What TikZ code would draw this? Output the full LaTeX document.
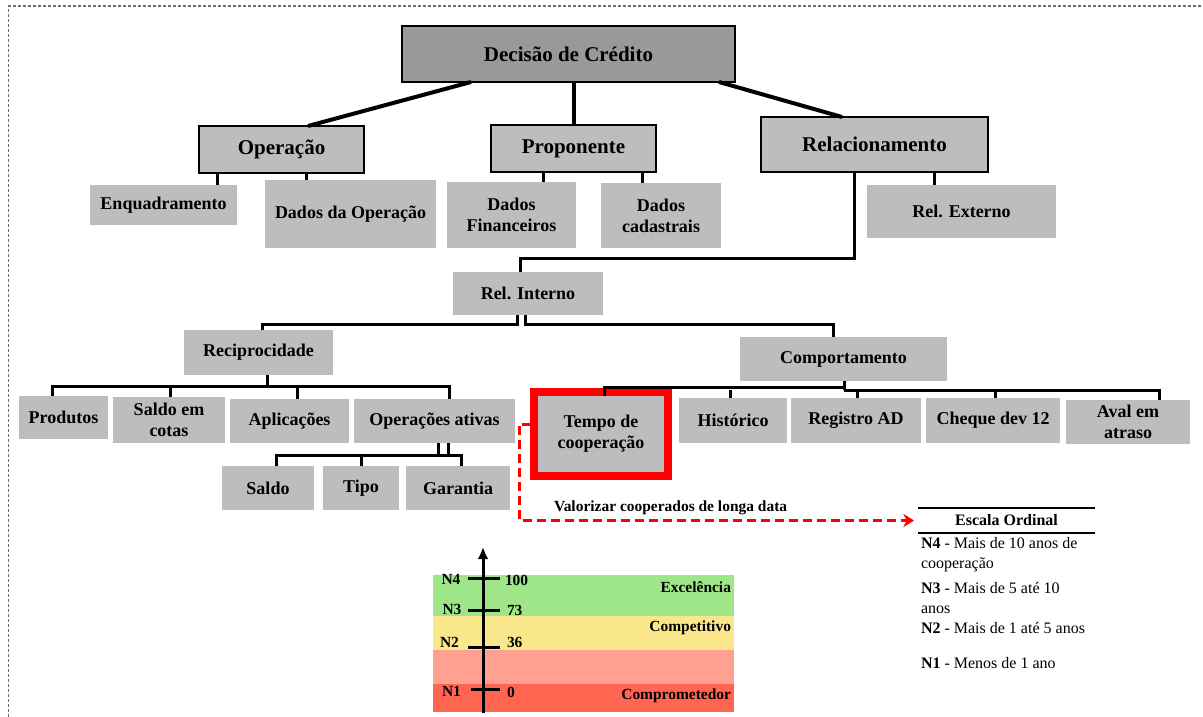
\documentclass[tikz,border=0pt]{standalone}
\usepackage{fontspec}
\setmainfont{Liberation Serif}
\usetikzlibrary{calc,arrows.meta}
\definecolor{boxgray}{RGB}{189,189,189}
\definecolor{topgray}{RGB}{153,153,153}
\definecolor{bandgreen}{RGB}{158,230,135}
\definecolor{bandyellow}{RGB}{250,231,140}
\definecolor{bandsalmon}{RGB}{255,160,145}
\definecolor{bandred}{RGB}{255,101,80}
\definecolor{framegray}{RGB}{110,110,110}
\begin{document}
\begin{tikzpicture}[x=0.75pt,y=-0.75pt,
  every node/.style={inner sep=0pt, outer sep=0pt},
  % a node spanning the rectangle left/top/right/bottom
  area/.style args={#1/#2/#3/#4}{at={({(#1+#3)/2},{(#2+#4)/2})},
    minimum width={(#3-#1)*0.75pt}, minimum height={(#4-#2)*0.75pt}},
  box/.style={fill=boxgray, align=center, font=\fontsize{13.5}{15.75}\selectfont\bfseries},
  framed/.style={box, draw=black, line width=0.9pt, font=\fontsize{15.75}{18}\selectfont\bfseries},
  toplink/.style={line width=3pt, black},
  link/.style={line width=2.25pt, black},
  legtext/.style={anchor=west, align=left, font=\fontsize{12}{15.4}\selectfont},
  scalelbl/.style={font=\fontsize{11.6}{13}\selectfont\bfseries},
  tick/.style={line width=2.25pt, black}]
\useasboundingbox (0,0) rectangle (1203,717);

% dotted frame
\draw[framegray, line width=1.1pt, dash pattern=on 2.25pt off 1.5pt] (8.5,717) -- (8.5,6) -- (1203,6);

% ---- tree nodes ----
\node[framed, fill=topgray, area=402/26/735/82] (dec) {Decisão de Crédito};
\node[framed, area=199/126/364/173] (op) {Operação};
\node[framed, area=491/125/656/172] (prop) {Proponente};
\node[framed, area=761/117/988/172] (rel) {Relacionamento};

\node[box, area=90/185/237/225] (enq) {Enquadramento};
\node[box, area=265/180/436/248] (dop) {Dados da Operação};
\node[box, area=447/182/576/248] (dfin) {Dados\\Financeiros};
\node[box, area=601/183/721/248] (dcad) {Dados\\cadastrais};
\node[box, area=867/185/1056/238] (rext) {Rel. Externo};

\node[box, area=453/272/603/315] (rint) {Rel. Interno};
\node[box, area=184/330/333/375] (rec) {Reciprocidade};
\node[box, area=740/337/947/381] (comp) {Comportamento};

\node[box, area=19/396/108/439] (prod) {Produtos};
\node[box, area=113/397/225/443] (sc) {Saldo em\\cotas};
\node[box, area=230/399/349/443] (apl) {Aplicações};
\node[box, area=354/399/515/443] (opat) {Operações ativas};

\node[box, area=222/466/314/510] (sal) {Saldo};
\node[box, area=323/466/399/510] (tipo) {Tipo};
\node[box, area=406/466/510/510] (gar) {Garantia};

\node[box, draw=red, line width=6pt, area=534/392/668/476] (tempo) {Tempo de\\cooperação};
\node[box, area=679/398/787/443] (hist) {Histórico};
\node[box, area=791/398/921/443] (reg) {Registro AD};
\node[box, area=926/398/1060/443] (cheq) {Cheque dev 12};
\node[box, area=1066/400/1190/444] (aval) {Aval em\\atraso};

% ---- connectors ----
\draw[toplink] (dec.south -| 471,0) -- (op.north -| 308,0);
\draw[toplink] (dec.south -| prop.north) -- (prop.north);
\draw[toplink] (dec.south -| 719,0) -- (rel.north -| 842,0);

\draw[link] (op.south -| 217,0) -- (enq.north -| 217,0);
\draw[link] (op.south -| 306,0) -- (dop.north -| 306,0);
\draw[link] (prop.south -| 543,0) -- (dfin.north -| 543,0);
\draw[link] (prop.south -| 642,0) -- (dcad.north -| 642,0);
\draw[link] (rel.south -| 934,0) -- (rext.north -| 934,0);
\draw[link] (rel.south -| 854,0) -- (854,258) -| (rint.north -| 520,0);

\draw[link] (rint.south -| 517,0) -- ++(0,9) -| (rec.north -| 262,0);
\draw[link] (rint.south -| 525,0) -- ++(0,9) -| (comp.north -| 833,0);

% Reciprocidade branch
\draw[link] (rec.south -| 267,0) -- (267,386);
\draw[link] (prod.north -| 52,0) -- (52,386) -- (449,386) -- (opat.north -| 449,0);
\draw[link] (sc.north -| 170,0) -- (170,386);
\draw[link] (apl.north -| 297,0) -- (297,386);

% Operações ativas branch
\draw[link] (opat.south -| 438,0) -- (438,455);
\draw[link] (opat.south -| 448,0) -- (448,455);
\draw[link] (sal.north -| 276,0) -- (276,455) -- (461,455) -- (gar.north -| 461,0);
\draw[link] (tipo.north -| 361,0) -- (361,455);

% Comportamento branch
\draw[link] (comp.south -| 844,0) -- (844,390);
\draw[link] ($(tempo.north -| 604,0)+(0,4)$) -- (604,387) -- (844,387);
\draw[link] (844,390) -- (1159,390) -- (aval.north -| 1159,0);
\draw[link] (hist.north -| 730,0) -- (730,390);
\draw[link] (reg.north -| 857,0) -- (857,390);
\draw[link] (cheq.north -| 995,0) -- (995,390);

% ---- ordinal scale legend ----
\node[area=918/508/1095/533, font=\fontsize{12}{14}\selectfont\bfseries] (esc) {Escala Ordinal};
\draw[line width=1.1pt] (esc.north west) -- (esc.north east);
\draw[line width=1.1pt] (esc.south west) -- (esc.south east);
\node[legtext] (l4) at (921,554.5) {\textbf{N4} - Mais de 10 anos de\\cooperação};
\node[legtext] (l3) at (921,598) {\textbf{N3} - Mais de 5 até 10\\anos};
\node[legtext] (l2) at (921,628) {\textbf{N2} - Mais de 1 até 5 anos};
\node[legtext] (l1) at (921,663) {\textbf{N1} - Menos de 1 ano};

% highlighted criterion pointing to its scale
\node[anchor=west, font=\fontsize{11.6}{13}\selectfont\bfseries] (val) at (554,508) {Valorizar cooperados de longa data};
\draw[red, line width=2.25pt, dash pattern=on 7pt off 3.5pt, -{Stealth[length=8pt,width=10pt]}]
  ($(tempo.west)+(-3,-10)$) -- ++(-12,0) |- ([xshift=-3pt]esc.west);

% ---- score bands ----
\fill[bandgreen] (433,575) rectangle (734,616);
\fill[bandyellow] (433,616) rectangle (734,650);
\fill[bandsalmon] (433,650) rectangle (734,684);
\fill[bandred] (433,684) rectangle (734,712);
\draw[line width=2.25pt, -{Latex[length=9pt,width=8pt]}] (483,713) -- (483,547);
\draw[tick] (468,578) -- (500,578);
\draw[tick] (468,610) -- (500,610);
\draw[tick] (468,647) -- (500,647);
\draw[tick] (471,689) -- (500,689);
\node[scalelbl] (n4) at (451,579) {N4};
\node[scalelbl] (n3) at (452,609) {N3};
\node[scalelbl] (n2) at (449.5,642) {N2};
\node[scalelbl] (n1) at (451.5,691) {N1};
\node[scalelbl, anchor=west] (v100) at (505,580) {100};
\node[scalelbl, anchor=west] (v73) at (507,610) {73};
\node[scalelbl, anchor=west] (v36) at (507,642) {36};
\node[scalelbl, anchor=west] (v0) at (507,692) {0};
\node[scalelbl, anchor=east] (exc) at (731,587) {Excelência};
\node[scalelbl, anchor=east] (cmp) at (731,628) {Competitivo};
\node[scalelbl, anchor=east] (cpr) at (731,696) {Comprometedor};
\end{tikzpicture}
\end{document}
